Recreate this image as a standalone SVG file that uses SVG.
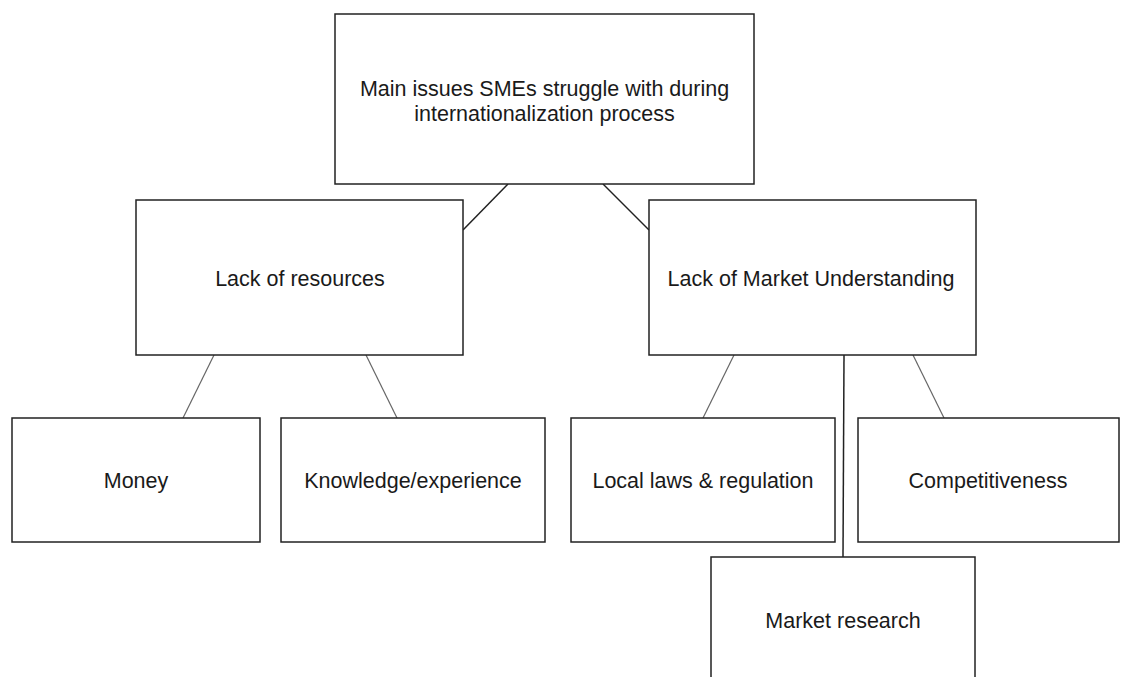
<svg xmlns="http://www.w3.org/2000/svg" width="1121" height="677" viewBox="0 0 1121 677">
<style>
.box{fill:#fff;stroke:#222;stroke-width:1.5}
.t{font-family:"Liberation Sans",Arial,sans-serif;font-size:21.5px;fill:#1a1a1a;text-anchor:middle;dominant-baseline:central}
.c1{stroke:#222;stroke-width:1.5;fill:none}
.c2{stroke:#666;stroke-width:1.2;fill:none}
</style>
<rect width="1121" height="677" fill="#fff"/>
<g id="connectors">
<line class="c1" x1="508" y1="184" x2="463" y2="230"/>
<line class="c1" x1="603" y1="184" x2="649" y2="230"/>
<line class="c2" x1="214" y1="355" x2="183" y2="418"/>
<line class="c2" x1="366" y1="355" x2="397" y2="418"/>
<line class="c2" x1="734" y1="355" x2="703" y2="418"/>
<line class="c2" x1="913" y1="355" x2="944" y2="418"/>
<line class="c1" x1="844" y1="355" x2="843" y2="557"/>
</g>
<g id="main"><rect class="box" x="335" y="14" width="419" height="170"/>
<text class="t" x="544.5" y="89">Main issues SMEs struggle with during</text>
<text class="t" x="544.5" y="114">internationalization process</text></g>
<g id="resources"><rect class="box" x="136" y="200" width="327" height="155"/>
<text class="t" x="300" y="279">Lack of resources</text></g>
<g id="market"><rect class="box" x="649" y="200" width="327" height="155"/>
<text class="t" x="811" y="279">Lack of Market Understanding</text></g>
<g id="money"><rect class="box" x="12" y="418" width="248" height="124"/>
<text class="t" x="136" y="481">Money</text></g>
<g id="knowledge"><rect class="box" x="281" y="418" width="264" height="124"/>
<text class="t" x="413" y="481">Knowledge/experience</text></g>
<g id="laws"><rect class="box" x="571" y="418" width="264" height="124"/>
<text class="t" x="703" y="481">Local laws &amp; regulation</text></g>
<g id="competitiveness"><rect class="box" x="858" y="418" width="261" height="124"/>
<text class="t" x="988" y="481">Competitiveness</text></g>
<g id="research"><rect class="box" x="711" y="557" width="264" height="140"/>
<text class="t" x="843" y="621">Market research</text></g>
</svg>
